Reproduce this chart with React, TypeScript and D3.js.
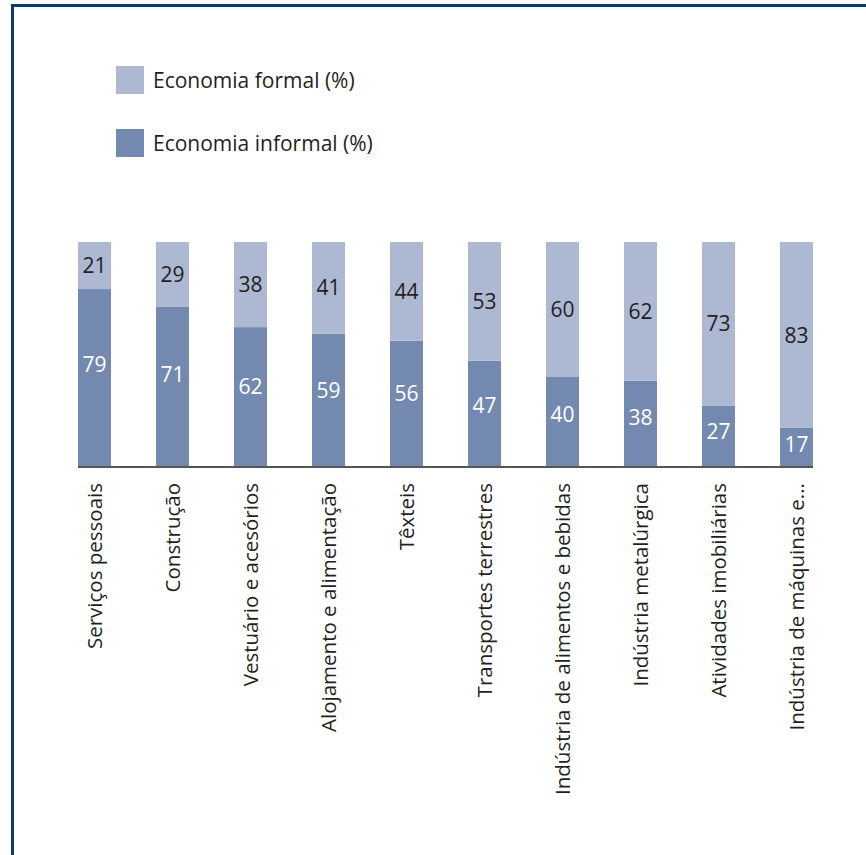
import React, { useEffect, useRef } from "react";
import * as d3 from "d3";

const categories = [
  "Serviços pessoais",
  "Construção",
  "Vestuário e acesórios",
  "Alojamento e alimentação",
  "Têxteis",
  "Transportes terrestres",
  "Indústria de alimentos e bebidas",
  "Indústria metalúrgica",
  "Atividades imobiliárias",
  "Indústria de máquinas e...",
];
const informal = [79, 71, 62, 59, 56, 47, 40, 38, 27, 17];
const formal = [21, 29, 38, 41, 44, 53, 60, 62, 73, 83];
const seriesNames = ["Economia formal (%)", "Economia informal (%)"];

const W = 866;
const H = 855;
const FONT = "'Open Sans', 'Noto Sans', sans-serif";
const C_FORMAL = "#adb9d3";
const C_INFORMAL = "#7489b0";

export default function App() {
  const ref = useRef<SVGSVGElement>(null);
  useEffect(() => {
    const svg = d3.select(ref.current);
    svg.selectAll("*").remove();

    // frame
    svg.append("line").attr("x1", 12.5).attr("x2", W).attr("y1", 5.5).attr("y2", 5.5)
      .attr("stroke", "#0b3a6e").attr("stroke-width", 3);
    svg.append("line").attr("x1", 12.5).attr("x2", 12.5).attr("y1", 4).attr("y2", H)
      .attr("stroke", "#0b3a6e").attr("stroke-width", 3);

    const x = d3.scaleBand<string>().domain(categories).range([78, 813])
      .paddingInner(45 / 78).paddingOuter(0);
    const y = d3.scaleLinear().domain([0, 100]).range([466, 242]);

    const g = svg.append("g");
    categories.forEach((c, i) => {
      const x0 = x(c)!;
      const bw = x.bandwidth();
      const inf = informal[i];
      const fo = formal[i];
      g.append("rect").attr("x", x0).attr("width", bw)
        .attr("y", y(inf)).attr("height", y(0) - y(inf)).attr("fill", C_INFORMAL);
      g.append("rect").attr("x", x0).attr("width", bw)
        .attr("y", y(inf + fo)).attr("height", y(inf) - y(inf + fo)).attr("fill", C_FORMAL);
      // labels
      g.append("text").attr("x", x0 + bw / 2).attr("y", y(inf + fo / 2))
        .attr("dy", "0.36em").attr("text-anchor", "middle")
        .attr("font-family", FONT).attr("font-size", 21).attr("fill", "#231f20")
        .text(fo);
      g.append("text").attr("x", x0 + bw / 2).attr("y", y(inf * 0.575))
        .attr("dy", "0.36em").attr("text-anchor", "middle")
        .attr("font-family", FONT).attr("font-size", 21).attr("fill", "#ffffff")
        .text(inf);
    });

    // axis baseline
    svg.append("line").attr("x1", 78).attr("x2", 813).attr("y1", 467).attr("y2", 467)
      .attr("stroke", "#555555").attr("stroke-width", 2);

    // category labels
    categories.forEach((c) => {
      const cx = x(c)! + x.bandwidth() / 2;
      svg.append("text")
        .attr("transform", `translate(${cx + 7},483) rotate(-90)`)
        .attr("text-anchor", "end")
        .attr("font-family", FONT).attr("font-size", 20.5).attr("fill", "#231f20")
        .text(c);
    });

    // legend
    const colors = [C_FORMAL, C_INFORMAL];
    seriesNames.forEach((n, i) => {
      const yy = 66 + i * 63;
      svg.append("rect").attr("x", 116).attr("y", yy).attr("width", 28).attr("height", 28)
        .attr("fill", colors[i]);
      svg.append("text").attr("x", 153).attr("y", yy + 14).attr("dy", "0.36em")
        .attr("font-family", FONT).attr("font-size", 21).attr("fill", "#231f20")
        .text(n);
    });
  }, []);
  return (
    <svg ref={ref} width={W} height={H}
      style={{ position: "absolute", left: 0, top: 0, background: "#fff" }} />
  );
}
